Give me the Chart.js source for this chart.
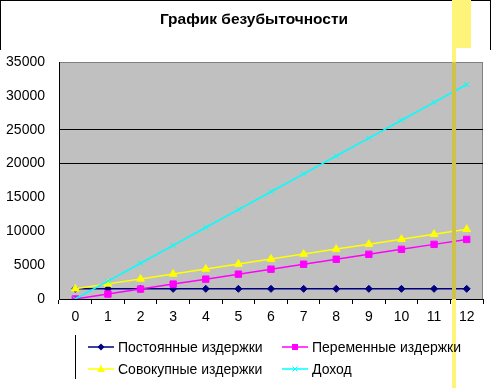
<!DOCTYPE html>
<html>
<head>
<meta charset="utf-8">
<script src="https://cdn.jsdelivr.net/npm/chart.js@4"></script>
<style>
  html, body { margin: 0; padding: 0; background: #fff; }
  #wrap { position: relative; width: 493px; height: 388px; overflow: hidden; }
  #title { position: absolute; left: 0; width: 508px; top: 10px; text-align: center;
    font: bold 15.5px "Liberation Sans", Arial, sans-serif; color: #000; }
  #legend { position: absolute; left: 75px; top: 335px; height: 44px; border-left: 1px solid #000;
    font: 14px "Liberation Sans", Arial, sans-serif; color: #000; }
  .item { position: absolute; white-space: nowrap; display: flex; align-items: center; height: 16px; }
  .item svg { margin-right: 4px; }
</style>
</head>
<body>
<div id="wrap">
  <canvas id="chart" width="493" height="388"></canvas>
  <div id="title">График безубыточности</div>
  <div id="legend"></div>
</div>
<script>
const categories = ["0", "1", "2", "3", "4", "5", "6", "7", "8", "9", "10", "11", "12"]
const fixedCosts = [1500, 1500, 1500, 1500, 1500, 1500, 1500, 1500, 1500, 1500, 1500, 1500, 1500]
const variableCosts = [0, 733, 1467, 2200, 2933, 3667, 4400, 5133, 5867, 6600, 7333, 8067, 8800]
const totalCosts = [1500, 2233, 2967, 3700, 4433, 5167, 5900, 6633, 7367, 8100, 8833, 9567, 10300]
const revenue = [0, 2640, 5280, 7920, 10560, 13200, 15840, 18480, 21120, 23760, 26400, 29040, 31680]
const seriesNames = ["Постоянные издержки", "Переменные издержки", "Совокупные издержки", "Доход"]
const gridValues = [20000, 25000]

// фон области построения и жёлтая полоса справа
const plotBg = {
  id: "plotBg",
  beforeDraw(chart) {
    const { ctx, chartArea: a } = chart
    ctx.save()
    ctx.fillStyle = "#c0c0c0"
    ctx.fillRect(a.left, a.top, a.right - a.left, a.bottom - a.top)
    ctx.strokeStyle = "#808080"
    ctx.lineWidth = 1
    ctx.strokeRect(a.left + 0.5, a.top + 0.5, a.right - a.left - 1, a.bottom - a.top)
    ctx.restore()
  },
  afterDraw(chart) {
    const { ctx, chartArea: a } = chart
    ctx.save()
    ctx.fillStyle = "#000"
    ctx.fillRect(0, 0, 491, 1)
    ctx.fillRect(0, 0, 1, 50)
    ctx.fillRect(490, 0, 1, 50)
    ctx.fillStyle = "#fff47a"
    ctx.fillRect(452, 0, 19, 48)
    ctx.fillRect(452, 48, 4, 340)
    ctx.fillStyle = "#cfc24a"
    ctx.fillRect(452, a.top, 4, a.bottom - a.top)
    ctx.restore()
  },
}

const ds = (label, data, color, style, radius, order, width) => ({
  label, data, order,
  borderColor: color, backgroundColor: color,
  borderWidth: width, pointStyle: style, pointRadius: radius,
  pointBorderColor: color, pointBackgroundColor: color, pointBorderWidth: 1,
  tension: 0,
})

new Chart(document.getElementById("chart"), {
  type: "line",
  data: {
    labels: categories,
    datasets: [
      ds(seriesNames[0], fixedCosts, "#000080", "rectRot", 3.5, 3, 1.5),
      ds(seriesNames[1], variableCosts, "#ff00ff", "rect", 4.5, 2, 1.5),
      ds(seriesNames[2], totalCosts, "#ffff00", "triangle", 4.5, 1, 1.5),
      ds(seriesNames[3], revenue, "#00ffff", "crossRot", 3.5, 0, 1.5),
    ],
  },
  options: {
    responsive: false,
    animation: false,
    events: [],
    layout: { padding: { top: 62, left: 0, right: 10, bottom: 59 } },
    plugins: { legend: { display: false }, title: { display: false }, tooltip: { enabled: false } },
    scales: {
      x: {
        offset: true,
        grid: { offset: true, drawOnChartArea: false, drawTicks: true, tickLength: 5, color: "#000" },
        border: { display: true, color: "#000" },
        ticks: { color: "#000", padding: 5, maxRotation: 0, autoSkip: false,
          font: { family: "'Liberation Sans', Arial, sans-serif", size: 14 } },
        afterFit(scale) { scale.height = 30 },
      },
      y: {
        min: 0, max: 35000,
        grid: {
          drawTicks: false,
          color: (c) => (c.tick && gridValues.includes(c.tick.value) ? "#000" : "rgba(0,0,0,0)"),
        },
        border: { display: true, color: "#000" },
        ticks: { stepSize: 5000, color: "#000", padding: 14,
          callback: (v) => String(v),
          font: { family: "'Liberation Sans', Arial, sans-serif", size: 14 } },
        afterFit(scale) { scale.width = 59 },
      },
    },
  },
  plugins: [plotBg],
})

// легенда
const markers = {
  rectRot: (c) => `<path d="M13 1.5 L16.5 5 L13 8.5 L9.5 5 Z" fill="${c}"/>`,
  rect: (c) => `<rect x="10" y="2" width="6" height="6" fill="${c}"/>`,
  triangle: (c) => `<path d="M13 1 L17 8 L9 8 Z" fill="${c}"/>`,
  crossRot: (c) => `<path d="M10.5 2.5 L15.5 7.5 M15.5 2.5 L10.5 7.5" stroke="${c}" stroke-width="1"/>`,
}
const legendPos = [[12, 4], [206, 4], [12, 26], [206, 26]]
const legendEl = document.getElementById("legend")
const meta = [["#000080", "rectRot"], ["#ff00ff", "rect"], ["#ffff00", "triangle"], ["#00ffff", "crossRot"]]
seriesNames.forEach((name, i) => {
  const [color, style] = meta[i]
  const el = document.createElement("div")
  el.className = "item"
  el.style.left = legendPos[i][0] + "px"
  el.style.top = legendPos[i][1] + "px"
  el.innerHTML = `<svg width="26" height="10"><line x1="0" y1="5" x2="26" y2="5" stroke="${color}" stroke-width="1.5"/>${markers[style](color)}</svg><span>${name}</span>`
  legendEl.appendChild(el)
})
</script>
</body>
</html>
